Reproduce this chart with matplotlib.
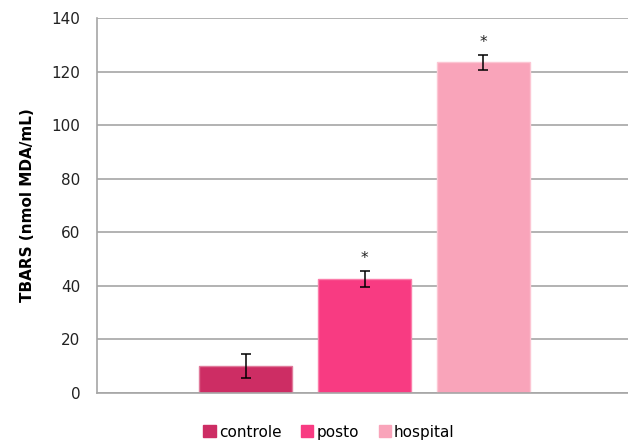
import numpy as np
import matplotlib
matplotlib.use("Agg")
import matplotlib.pyplot as plt
from matplotlib.patches import Patch

groups = ["controle", "posto", "hospital"]
tbars = [10.1, 42.6, 123.4]
err = [4.6, 3.0, 2.8]
signif = ["", "*", "*"]
colors = ["#CD2D64", "#F83B82", "#F9A4BA"]
edges = ["#E07A9B", "#FB7DAA", "#FCC6D3"]

plt.rcParams["font.family"] = ["DejaVu Sans"]

fig = plt.figure(figsize=(6.28, 4.40), dpi=100)
ax = fig.add_axes([97/628, 47/440, 535/628, 375/440])

x = np.arange(len(groups))
ax.bar(x, tbars, width=0.78, color=colors, edgecolor=edges, linewidth=1.0, zorder=2)
ax.errorbar(x, tbars, yerr=err, fmt="none", ecolor="black", elinewidth=1.1,
            capsize=3.6, capthick=1.1, zorder=3)

for i in range(len(groups)):
    if signif[i]:
        ax.text(x[i], tbars[i] + err[i] + 4.5, signif[i], ha="center", va="center",
                fontsize=11, color="#222222")

ax.set_xlim(-1.25, 3.25)
ax.set_ylim(0, 140)
ax.set_yticks(np.arange(0, 141, 20))
ax.set_xticks([])
ax.yaxis.grid(True, color="#A6A6A6", linewidth=1.2, zorder=0)
ax.set_axisbelow(True)
for s in ["right", "top"]:
    ax.spines[s].set_visible(False)
for s in ["left", "bottom"]:
    ax.spines[s].set_color("#A6A6A6")
    ax.spines[s].set_linewidth(1.2)
ax.tick_params(axis="y", length=0, pad=12, labelsize=11, labelcolor="#222222")

ax.set_ylabel("TBARS (nmol MDA/mL)", fontsize=11, fontweight="bold", labelpad=12)

handles = [Patch(facecolor=c, edgecolor=c) for c in colors]
fig.legend(handles, groups, loc="center", bbox_to_anchor=(329/628, 1 - 432/440),
           ncol=3, frameon=False, fontsize=11, handlelength=0.8, handleheight=0.8,
           handletextpad=0.2, columnspacing=1.3)

fig.savefig("out.png", dpi=100)
